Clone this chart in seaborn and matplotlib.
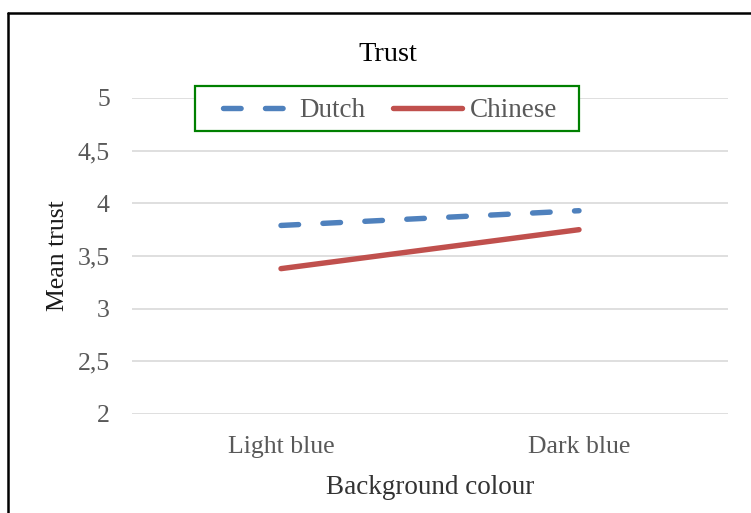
import pandas as pd
import matplotlib.pyplot as plt
import seaborn as sns
from matplotlib.lines import Line2D
from matplotlib.patches import Rectangle

# data
categories = ["Light blue", "Dark blue"]
groups = ["Dutch", "Chinese"]
dutch_trust = [3.79, 3.93]
chinese_trust = [3.38, 3.75]
y_ticks = [2, 2.5, 3, 3.5, 4, 4.5, 5]
y_tick_labels = ["2", "2,5", "3", "3,5", "4", "4,5", "5"]

df = pd.DataFrame({
    "Background colour": categories * 2,
    "Mean trust": dutch_trust + chinese_trust,
    "Group": [groups[0]] * 2 + [groups[1]] * 2,
})

sns.set_style("white")
plt.rcParams["font.family"] = ["Liberation Serif", "DejaVu Serif"]

W, H = 751, 513
fig = plt.figure(figsize=(W / 100, H / 100), dpi=100)
ax = fig.add_axes([132 / W, 1 - 414 / H, (728 - 132) / W, (414 - 98) / H])

LW = 3.9
DASH = (3.25, 4.5)
palette = {"Dutch": "#4F81BD", "Chinese": "#C0504D"}
sns.lineplot(data=df, x="Background colour", y="Mean trust", hue="Group",
             style="Group", palette=palette,
             dashes={"Dutch": DASH, "Chinese": ""},
             linewidth=LW, ax=ax, legend=False, sort=False)
for ln in ax.get_lines():
    ln.set_dash_capstyle("round")
    ln.set_solid_capstyle("round")
    if ln.get_linestyle() != "-":
        ln.set_dashes(DASH)

ax.set_xlim(-0.5, 1.5)
ax.set_ylim(2, 5)
ax.set_yticks(y_ticks)
ax.set_yticklabels(y_tick_labels)
ax.yaxis.grid(True, color="#d9d9d9", linewidth=1.2)
ax.set_axisbelow(True)
for s in ax.spines.values():
    s.set_visible(False)
ax.tick_params(axis="both", length=0, labelsize=18.5, labelcolor="#595959")
ax.tick_params(axis="y", pad=16)
ax.tick_params(axis="x", pad=16)
ax.set_xlabel("")
ax.set_ylabel("")

fig.text(388 / W, 1 - 55 / H, "Trust", ha="center", va="center",
         fontsize=20.5, color="black")
fig.text(430 / W, 1 - 487 / H, "Background colour", ha="center",
         va="center", fontsize=19.5, color="#333333")
fig.text(58 / W, 1 - 256 / H, "Mean trust", ha="center", va="center",
         rotation=90, fontsize=18.5, color="#1a1a1a")

# legend box (green frame, white fill)
fig.add_artist(Rectangle((195 / W, 1 - 131 / H), 384 / W, 45 / H,
                         transform=fig.transFigure, facecolor="white",
                         edgecolor="#008000", linewidth=1.6, zorder=4))
handles = [
    Line2D([], [], color=palette["Dutch"], lw=LW, dashes=DASH,
           dash_capstyle="round"),
    Line2D([], [], color=palette["Chinese"], lw=LW, solid_capstyle="round"),
]
leg = fig.legend(handles, groups, loc="center",
                 bbox_to_anchor=(390 / W, 1 - 110.5 / H), ncol=2,
                 fontsize=19.5, handlelength=2.55, handletextpad=0.3,
                 columnspacing=1.0, borderpad=0.2, frameon=False,
                 labelcolor="#595959")
leg.set_zorder(5)

# outer chart border (only top and left visible)
fig.add_artist(Line2D([7.5 / W, 7.5 / W], [0, 1 - 12.5 / H], color="black",
                      lw=1.8, transform=fig.transFigure))
fig.add_artist(Line2D([7.5 / W, 1], [1 - 12.5 / H, 1 - 12.5 / H],
                      color="black", lw=1.8, transform=fig.transFigure))

fig.savefig("out.png", dpi=100)
